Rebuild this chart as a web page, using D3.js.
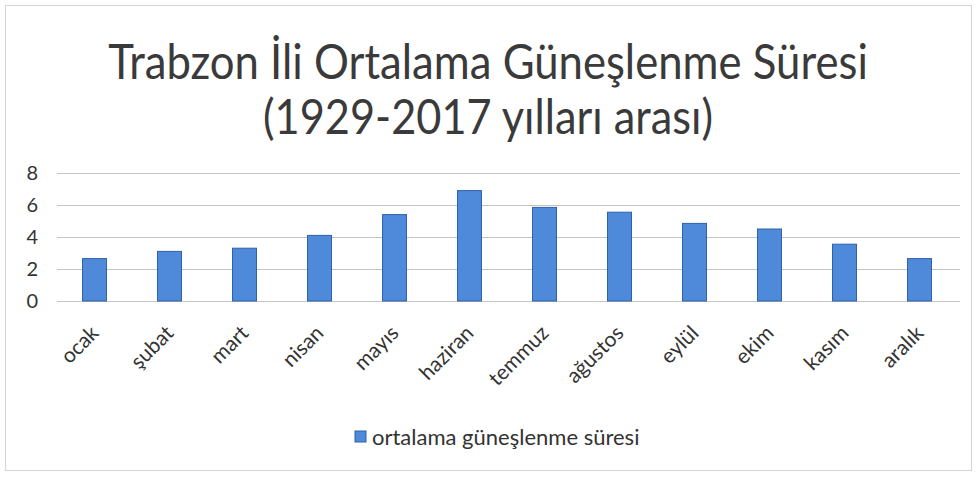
<!DOCTYPE html>
<html>
<head>
<meta charset="UTF-8">
<script src="https://d3js.org/d3.v7.min.js"></script>
<style>
  body { margin: 0; background: #fff; }
  svg { display: block; }
  text { font-family: Lato, "Open Sans", sans-serif; fill: #404040; }
</style>
</head>
<body>
<script>
// data (hours / day)
const months = ["ocak", "şubat", "mart", "nisan", "mayıs", "haziran",
                "temmuz", "ağustos", "eylül", "ekim", "kasım", "aralık"];
const sunshine = [2.65, 3.1, 3.3, 4.1, 5.4, 6.9, 5.85, 5.55, 4.85, 4.5, 3.55, 2.65];
const yTicks = [0, 2, 4, 6, 8];
const titleLines = ["Trabzon İli Ortalama Güneşlenme Süresi", "(1929-2017 yılları arası)"];
const seriesName = "ortalama güneşlenme süresi";

const W = 976, H = 477;
const plot = {left: 57, right: 957, top: 173, bottom: 301};

const svg = d3.select("body").append("svg")
  .attr("width", W)
  .attr("height", H);

// chart frame
svg.append("rect")
  .attr("x", 5.5).attr("y", 5.5)
  .attr("width", W - 10).attr("height", H - 12)
  .attr("fill", "#fff")
  .attr("stroke", "#d4d4d4");

// title, sized to the widths in the picture, a bit taller like Calibri
const titleWidths = [760, 450];
const titleBase = [79, 134];
titleLines.forEach(function(t, i) {
  const el = svg.append("text")
    .attr("text-anchor", "middle")
    .attr("transform", "translate(" + (W / 2) + "," + titleBase[i] + ") scale(1,1.12)")
    .style("font-size", "100px")
    .style("fill", "#3a3a3a")
    .text(t);
  const w = el.node().getComputedTextLength();
  el.style("font-size", (100 * titleWidths[i] / w) + "px");
});

const x = d3.scaleBand()
  .domain(months)
  .range([plot.left, plot.right])
  .paddingInner(0.68)
  .paddingOuter(0.34);

const y = d3.scaleLinear()
  .domain([0, 8])
  .range([plot.bottom, plot.top]);

// y axis + gridlines
const yAxis = svg.append("g")
  .attr("transform", "translate(" + plot.left + ",0)")
  .call(d3.axisLeft(y)
    .tickValues(yTicks)
    .tickSize(-(plot.right - plot.left + 3))
    .tickPadding(19));
yAxis.select(".domain").remove();
yAxis.selectAll("line").attr("stroke", "#c4c4c4");
yAxis.selectAll("text")
  .style("font-size", "20px")
  .style("fill", "#333")
  .attr("dy", "0.34em");

// bars
svg.append("g")
  .selectAll("rect")
  .data(sunshine)
  .join("rect")
    .attr("x", (d, i) => x(months[i]))
    .attr("y", d => y(d))
    .attr("width", x.bandwidth())
    .attr("height", d => y(0) - y(d))
    .attr("fill", "#4f89d9")
    .attr("stroke", "#2f62a8")
    .attr("stroke-width", 1);

// x axis labels
const xAxis = svg.append("g")
  .attr("transform", "translate(0," + (plot.bottom + 13) + ")")
  .call(d3.axisBottom(x).tickSize(0).tickPadding(0));
xAxis.select(".domain").remove();
xAxis.selectAll("text")
  .style("font-size", "21px")
  .style("fill", "#333")
  .attr("text-anchor", "end")
  .attr("dy", "0.7em")
  .attr("transform", "translate(-5,10) rotate(-45)");

// legend
const legend = svg.append("g").attr("transform", "translate(355,431)");
legend.append("rect")
  .attr("width", 11).attr("height", 11)
  .attr("fill", "#4f89d9")
  .attr("stroke", "#2f62a8");
legend.append("text")
  .attr("x", 17)
  .attr("y", 6)
  .attr("dy", "0.35em")
  .style("font-size", "22px")
  .style("fill", "#333")
  .text(seriesName);
</script>
</body>
</html>
